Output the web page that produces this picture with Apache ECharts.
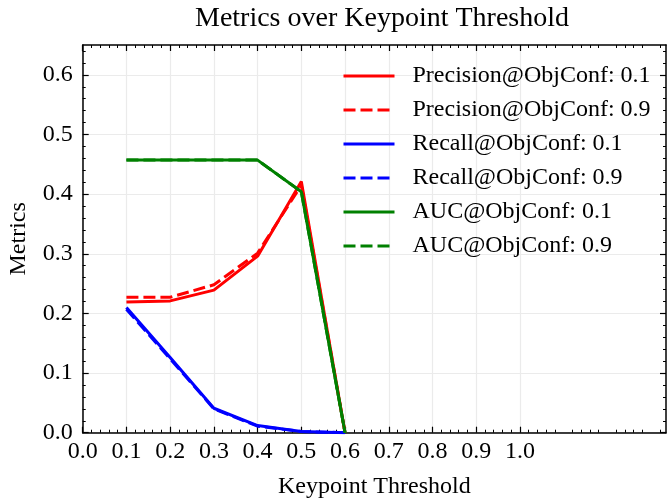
<!DOCTYPE html>
<html>
<head>
<meta charset="utf-8">
<script src="https://cdn.jsdelivr.net/npm/echarts@6/dist/echarts.min.js"></script>
<style>html,body{margin:0;padding:0;background:#fff;}#c{width:669px;height:498px;}</style>
</head>
<body>
<div id="c"></div>
<script>
const thresholds = [0.1, 0.2, 0.3, 0.4, 0.5, 0.6];
const precision01 = [0.219, 0.221, 0.239, 0.296, 0.421, 0.0];
const precision09 = [0.227, 0.227, 0.248, 0.301, 0.415, 0.0];
const recall01 = [0.210, 0.126, 0.041, 0.012, 0.002, 0.0];
const recall09 = [0.207, 0.124, 0.040, 0.011, 0.002, 0.0];
const auc01 = [0.457, 0.457, 0.457, 0.457, 0.404, 0.0];
const auc09 = [0.457, 0.457, 0.457, 0.457, 0.404, 0.0];
const xTicks = [0.0, 0.1, 0.2, 0.3, 0.4, 0.5, 0.6, 0.7, 0.8, 0.9, 1.0];
const yTicks = [0.0, 0.1, 0.2, 0.3, 0.4, 0.5, 0.6];

const FONT = 'Liberation Serif';
const pair = a => thresholds.map((x, i) => [x, a[i]]);

const seriesDefs = [
  { name: 'Precision@ObjConf: 0.1', data: precision01, color: '#ff0000', dash: 'solid' },
  { name: 'Precision@ObjConf: 0.9', data: precision09, color: '#ff0000', dash: [12, 5] },
  { name: 'Recall@ObjConf: 0.1', data: recall01, color: '#0000ff', dash: 'solid' },
  { name: 'Recall@ObjConf: 0.9', data: recall09, color: '#0000ff', dash: [12, 5] },
  { name: 'AUC@ObjConf: 0.1', data: auc01, color: '#008000', dash: 'solid' },
  { name: 'AUC@ObjConf: 0.9', data: auc09, color: '#008000', dash: [12, 5] }
];

function xAxisDef(pos, labels) {
  return {
    type: 'value', position: pos, min: 0, max: 1.334, interval: 0.1,
    name: labels ? 'Keypoint Threshold' : '', nameLocation: 'middle', nameGap: 42,
    nameTextStyle: { fontFamily: FONT, fontSize: 24, color: '#000' },
    axisLine: { show: true, onZero: false, lineStyle: { color: '#000', width: 1.5 } },
    axisTick: { show: true, inside: true, length: 6, customValues: xTicks, lineStyle: { color: '#000', width: 1.2 } },
    minorTick: { show: true, splitNumber: 5, length: 3, lineStyle: { color: '#000', width: 1 } },
    axisLabel: { show: labels, customValues: xTicks, margin: 7, fontFamily: FONT, fontSize: 24, color: '#000',
      formatter: v => v.toFixed(1) },
    splitLine: { show: labels, lineStyle: { color: '#ebebeb', width: 1.2 } }
  };
}
function yAxisDef(pos, labels) {
  return {
    type: 'value', position: pos, min: 0, max: 0.65, interval: 0.1,
    name: labels ? 'Metrics' : '', nameLocation: 'middle', nameGap: 52,
    nameTextStyle: { fontFamily: FONT, fontSize: 24, color: '#000' },
    axisLine: { show: true, onZero: false, lineStyle: { color: '#000', width: 1.5 } },
    axisTick: { show: true, inside: true, length: 6, customValues: yTicks, lineStyle: { color: '#000', width: 1.2 } },
    minorTick: { show: true, splitNumber: 5, length: 3, lineStyle: { color: '#000', width: 1 } },
    axisLabel: { show: labels, customValues: yTicks, margin: 10, fontFamily: FONT, fontSize: 24, color: '#000',
      formatter: v => v.toFixed(1) },
    splitLine: { show: labels, lineStyle: { color: '#ebebeb', width: 1.2 } }
  };
}

const chart = echarts.init(document.getElementById('c'), null, { renderer: 'canvas' });
chart.setOption({
  animation: false,
  backgroundColor: '#fff',
  title: {
    text: 'Metrics over Keypoint Threshold', left: 377, top: 0, textAlign: 'center',
    textStyle: { fontFamily: FONT, fontSize: 28, fontWeight: 'normal', color: '#000' }
  },
  grid: { left: 82.7, top: 45, right: 3, bottom: 65.3, containLabel: false, outerBoundsMode: 'none' },
  xAxis: [xAxisDef('bottom', true), xAxisDef('top', false)],
  yAxis: [yAxisDef('left', true), yAxisDef('right', false)],
  legend: {
    orient: 'vertical', left: 337, top: 59, itemWidth: 51, itemHeight: 14, itemGap: 10,
    itemStyle: { opacity: 0 },
    lineStyle: { width: 3 },
    textStyle: { fontFamily: FONT, fontSize: 24, color: '#000', lineHeight: 24, padding: [0, 0, 0, 13] },
    data: seriesDefs.map(s => s.name)
  },
  series: seriesDefs.map(s => ({
    name: s.name, type: 'line', xAxisIndex: 0, yAxisIndex: 0,
    data: pair(s.data), symbol: 'none', color: s.color,
    lineStyle: { color: s.color, width: 3, type: s.dash }
  }))
});
</script>
</body>
</html>
